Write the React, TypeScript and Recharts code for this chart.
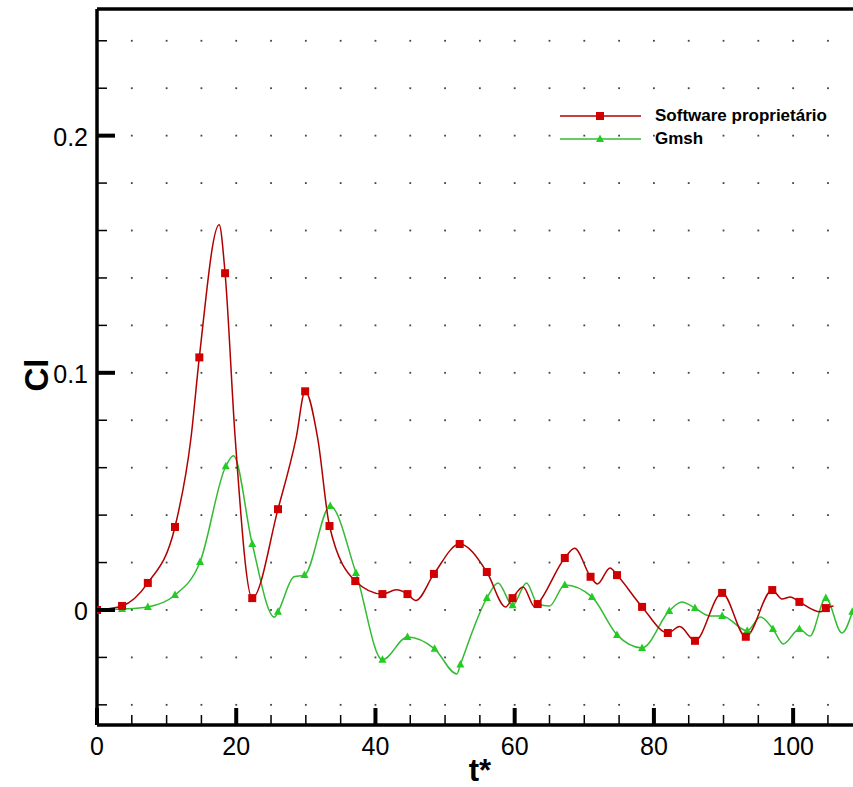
import React from 'react';
import { ComposedChart, Line, Scatter, XAxis, YAxis, ReferenceLine } from 'recharts';

// curve samples (t*, Cl)
const redT = [0, 3.6, 7.3, 11.2, 13.5, 14.7, 17.55, 18.4, 19.85, 22.3, 26.0, 28.6, 29.9, 31.7, 33.4, 37.1, 41.0, 43.0, 44.6, 45.8, 48.4, 52.1, 56.0, 58.7, 59.7, 61.2, 62.9, 63.3, 67.2, 68.6, 70.9, 71.9, 73.7, 74.7, 78.3, 82.0, 83.7, 85.9, 89.8, 93.2, 97.0, 98.4, 99.6, 100.9, 103.9, 104.7, 105.8];
const redCl = [0, 0.0017, 0.0114, 0.035, 0.0725, 0.1065, 0.1624, 0.142, 0.0725, 0.005, 0.0425, 0.0725, 0.0922, 0.0725, 0.0354, 0.0122, 0.0067, 0.0085, 0.0067, 0.004, 0.0152, 0.0278, 0.016, 0.0013, 0.005, 0.0097, 0.0013, 0.0025, 0.0219, 0.026, 0.014, 0.011, 0.0177, 0.0147, 0.0013, -0.0097, -0.007, -0.013, 0.0072, -0.0113, 0.0084, 0.0046, 0.0055, 0.0034, -0.0008, 0.0008, 0.0017];
const redMarkT = [0, 3.6, 7.3, 11.2, 14.7, 18.4, 22.3, 26.0, 29.9, 33.4, 37.1, 41.0, 44.6, 48.4, 52.1, 56.0, 59.7, 63.3, 67.2, 70.9, 74.7, 78.3, 82.0, 85.9, 89.8, 93.2, 97.0, 100.9, 104.7];

const greenT = [0, 3.6, 7.3, 11.2, 14.8, 18.5, 19.6, 22.3, 25.5, 26.0, 28.3, 29.8, 33.5, 37.2, 41.0, 44.6, 48.5, 51.7, 52.2, 56.0, 57.6, 59.7, 61.7, 63.3, 65.0, 67.2, 71.1, 74.7, 78.3, 82.2, 84.0, 85.9, 88.0, 89.8, 93.4, 95.3, 97.1, 98.6, 100.9, 102.4, 104.7, 107.0, 108.5];
const greenCl = [0, 0.0004, 0.0013, 0.0063, 0.0202, 0.0606, 0.065, 0.0278, -0.003, -0.0008, 0.014, 0.0147, 0.0438, 0.0156, -0.021, -0.0114, -0.0164, -0.027, -0.023, 0.005, 0.0114, 0.002, 0.0114, 0.0025, 0.0017, 0.0105, 0.0055, -0.0105, -0.016, -0.0004, 0.0034, 0.0008, -0.0025, -0.0025, -0.0088, -0.003, -0.008, -0.0143, -0.008, -0.011, 0.005, -0.0097, -0.0008];
const greenMarkT = [3.6, 7.3, 11.2, 14.8, 18.5, 22.3, 26.0, 29.8, 33.5, 37.2, 41.0, 44.6, 48.5, 52.2, 56.0, 59.7, 63.3, 67.2, 71.1, 74.7, 78.3, 82.2, 85.9, 89.8, 93.4, 97.1, 100.9, 104.7, 108.5];

const xTicks = [0, 5, 10, 15, 20, 25, 30, 35, 40, 45, 50, 55, 60, 65, 70, 75, 80, 85, 90, 95, 100, 105];
const yTicks = [-0.04, -0.02, 0, 0.02, 0.04, 0.06, 0.08, 0.1, 0.12, 0.14, 0.16, 0.18, 0.2, 0.22, 0.24];
const xMajor = [0, 20, 40, 60, 80, 100];
const yMajor = [0, 0.1, 0.2];

const X_DOMAIN = [0, 108.6];
const Y_DOMAIN = [-0.0485, 0.2534];
const FONT = '"Liberation Sans", Arial, sans-serif';
const RED_LINE = '#b00000';
const RED_MARK = '#d00000';
const GREEN_LINE = '#33bb33';
const GREEN_MARK = '#22cc22';

const toPoints = (ts: number[], cls: number[]) => ts.map((t, i) => ({ t, cl: cls[i] }));
const pick = (ts: number[], cls: number[], marks: number[]) =>
  marks.map((t) => ({ t, cl: cls[ts.indexOf(t)] }));

const redData = toPoints(redT, redCl);
const greenData = toPoints(greenT, greenCl);
const redMarks = pick(redT, redCl, redMarkT);
const greenMarks = pick(greenT, greenCl, greenMarkT);
const gridDots = xTicks.filter((t) => t > 0).flatMap((t) => yTicks.map((cl) => ({ t, cl })));

const isMajor = (v: number, list: number[]) => list.some((m) => Math.abs(m - v) < 1e-9);

function XTick(props: any) {
  const { x, y, payload } = props;
  const major = isMajor(payload.value, xMajor);
  return (
    <g>
      <line x1={x} y1={y} x2={x} y2={y - (major ? 17 : 10)} stroke="#000" strokeWidth={major ? 4 : 1.5} />
      {major && (
        <text x={x} y={y + 30} textAnchor="middle" fontSize={25} fontFamily={FONT} fill="#000">
          {payload.value}
        </text>
      )}
    </g>
  );
}

function YTick(props: any) {
  const { x, y, payload } = props;
  const major = isMajor(payload.value, yMajor);
  return (
    <g>
      <line x1={x} y1={y} x2={x + (major ? 18 : 10)} y2={y} stroke="#000" strokeWidth={major ? 4 : 1.5} />
      {major && (
        <text x={x - 9} y={y + 10} textAnchor="end" fontSize={25} fontFamily={FONT} fill="#000">
          {payload.value}
        </text>
      )}
    </g>
  );
}

const Dot = (props: any) => <rect x={props.cx - 0.9} y={props.cy - 0.9} width={1.8} height={1.8} fill="#444" />;
const Square = (props: any) => <rect x={props.cx - 4} y={props.cy - 4} width={8} height={8} fill={RED_MARK} />;
const Triangle = (props: any) => (
  <path d={`M${props.cx},${props.cy - 4.5}L${props.cx + 4},${props.cy + 3}L${props.cx - 4},${props.cy + 3}Z`} fill={GREEN_MARK} />
);

function Legend() {
  const row = (label: string, color: string, marker: React.ReactNode) => (
    <div style={{ display: 'flex', alignItems: 'center', height: 23 }}>
      <svg width={95} height={12}>
        <line x1={0} y1={6} x2={81} y2={6} stroke={color} strokeWidth={1.5} />
        {marker}
      </svg>
      <span style={{ fontFamily: FONT, fontWeight: 'bold', fontSize: 17, color: '#000' }}>{label}</span>
    </div>
  );
  return (
    <div style={{ position: 'absolute', left: 560, top: 104 }}>
      {row('Software proprietário', RED_LINE, <rect x={36} y={2} width={8} height={8} fill={RED_MARK} />)}
      {row('Gmsh', GREEN_LINE, <path d="M40,1.5L44,9L36,9Z" fill={GREEN_MARK} />)}
    </div>
  );
}

export default function App() {
  return (
    <div style={{ position: 'absolute', left: 0, top: 0, width: 853, height: 787, background: '#fff' }}>
      <ComposedChart width={853} height={787} margin={{ top: 9, right: 0, bottom: 0, left: 0 }}>
        <XAxis
          dataKey="t"
          type="number"
          domain={X_DOMAIN}
          ticks={xTicks}
          interval={0}
          allowDataOverflow
          height={62}
          tickSize={0}
          tickMargin={0}
          tickLine={false}
          axisLine={{ stroke: '#000', strokeWidth: 3.5 }}
          tick={<XTick />}
          label={({ viewBox }: any) => (
            <text
              x={viewBox.x + viewBox.width / 2 + 5}
              y={viewBox.y + 56}
              textAnchor="middle"
              fontSize={31}
              fontWeight="bold"
              fontFamily={FONT}
            >
              t*
            </text>
          )}
        />
        <YAxis
          dataKey="cl"
          type="number"
          domain={Y_DOMAIN}
          ticks={yTicks}
          interval={0}
          allowDataOverflow
          width={97}
          tickSize={0}
          tickMargin={0}
          tickLine={false}
          axisLine={{ stroke: '#000', strokeWidth: 3.5 }}
          tick={<YTick />}
          label={({ viewBox }: any) => {
            const cx = 36;
            const cy = viewBox.y + viewBox.height / 2 + 8;
            return (
              <text
                x={cx}
                y={cy}
                transform={`rotate(-90 ${cx} ${cy})`}
                textAnchor="middle"
                dominantBaseline="central"
                fontSize={33}
                fontWeight="bold"
                fontFamily={FONT}
              >
                Cl
              </text>
            );
          }}
        />
        <ReferenceLine y={Y_DOMAIN[1]} stroke="#000" strokeWidth={3.5} />
        <Scatter data={gridDots} shape={Dot} isAnimationActive={false} />
        <Line data={greenData} dataKey="cl" type="monotone" stroke={GREEN_LINE} strokeWidth={1.5} dot={false} isAnimationActive={false} />
        <Scatter data={greenMarks} shape={Triangle} isAnimationActive={false} />
        <Line data={redData} dataKey="cl" type="monotone" stroke={RED_LINE} strokeWidth={1.5} dot={false} isAnimationActive={false} />
        <Scatter data={redMarks} shape={Square} isAnimationActive={false} />
      </ComposedChart>
      <Legend />
    </div>
  );
}
